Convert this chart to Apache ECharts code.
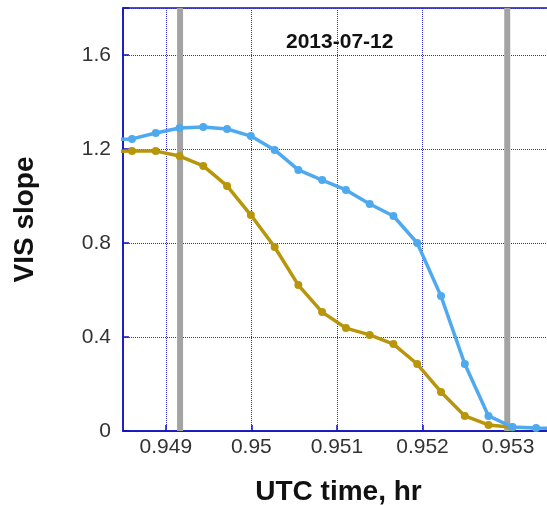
<!DOCTYPE html>
<html>
<head>
<meta charset="utf-8">
<script src="https://cdn.jsdelivr.net/npm/echarts@6/dist/echarts.min.js"></script>
<style>
  html, body { margin: 0; padding: 0; background: #fff; }
  #chart { width: 547px; height: 505px; }
</style>
</head>
<body>
<div id="chart"></div>
<script>
  // UTC time (hr), one sample per second
  var times = [0.948327, 0.948605, 0.948883, 0.949161, 0.949438, 0.949716, 0.949994,
    0.950272, 0.950549, 0.950827, 0.951105, 0.951383, 0.951660, 0.951938, 0.952216,
    0.952494, 0.952771, 0.953049, 0.953327, 0.953605]
  var blueSlope = [1.24, 1.243, 1.268, 1.289, 1.294, 1.285, 1.255, 1.196, 1.111, 1.068,
    1.026, 0.966, 0.915, 0.80, 0.574, 0.285, 0.064, 0.017, 0.013, 0.01]
  var oliveSlope = [1.19, 1.191, 1.191, 1.170, 1.128, 1.043, 0.919, 0.783, 0.621, 0.506,
    0.438, 0.409, 0.370, 0.285, 0.166, 0.064, 0.026, 0.016, null, null]
  var xTicks = [0.949, 0.95, 0.951, 0.952, 0.953]
  var yTicks = [0, 0.4, 0.8, 1.2, 1.6]
  var bands = [0.949167, 0.95299]
  var dateLabel = '2013-07-12'

  var FONT = "'Liberation Sans', Arial, sans-serif"
  var frameColor = '#1010c0'
  var Y_MAX = 1.8

  function pairs(vals) {
    return times.map(function (t, i) { return [t, vals[i]] })
  }

  // each gray band is a thick vertical line from bottom to top of the plot
  var bandSeries = bands.map(function (b) {
    return {
      type: 'line',
      z: 1,
      silent: true,
      symbol: 'none',
      data: [[b, 0], [b, Y_MAX]],
      lineStyle: { color: '#a3a3a3', width: 6 }
    }
  })

  var chart = echarts.init(document.getElementById('chart'), null, { renderer: 'canvas' })
  var option = {
    animation: false,
    backgroundColor: '#fff',
    title: {
      text: dateLabel,
      left: 281,
      top: 27,
      textStyle: { fontFamily: FONT, fontSize: 21, fontWeight: 'bold', color: '#111' }
    },
    grid: {
      left: 123,
      top: 8,
      right: -21,
      bottom: 74,
      outerBoundsMode: 'none',
      containLabel: false,
      show: true,
      borderColor: frameColor,
      borderWidth: 1.5,
      backgroundColor: 'transparent'
    },
    xAxis: {
      type: 'value',
      min: 0.9485,
      max: 0.9537,
      name: 'UTC time, hr',
      nameLocation: 'middle',
      nameGap: 47,
      nameTextStyle: { fontFamily: FONT, fontSize: 28, fontWeight: 'bold', color: '#111', padding: [0, 14, 0, 0] },
      axisLine: { show: true, lineStyle: { color: frameColor, width: 1.5 } },
      axisTick: { show: true, inside: true, length: 6, customValues: xTicks, lineStyle: { color: frameColor, width: 1.5 } },
      axisLabel: {
        customValues: xTicks,
        margin: 6,
        fontFamily: FONT, fontSize: 21, color: '#333',
        formatter: function (v) { return String(+v.toFixed(4)) }
      },
      splitLine: { show: true, lineStyle: { color: '#2a2ad0', type: 'dotted', width: 1 } }
    },
    yAxis: {
      type: 'value',
      min: 0,
      max: Y_MAX,
      interval: 0.4,
      name: 'VIS slope',
      nameLocation: 'middle',
      nameRotate: 90,
      nameGap: 84,
      nameTextStyle: { fontFamily: FONT, fontSize: 28, fontWeight: 'bold', color: '#111' },
      axisLine: { show: true, lineStyle: { color: frameColor, width: 1.5 } },
      axisTick: { show: true, inside: true, length: 6, lineStyle: { color: frameColor, width: 1.5 } },
      axisLabel: {
        margin: 12,
        fontFamily: FONT, fontSize: 21, color: '#333',
        formatter: function (v) { return yTicks.indexOf(+v.toFixed(1)) >= 0 ? String(+v.toFixed(1)) : '' }
      },
      splitLine: { show: true, lineStyle: { color: '#2a2ad0', type: 'dotted', width: 1 } }
    },
    series: bandSeries.concat([
      {
        name: 'olive',
        type: 'line',
        z: 3,
        data: pairs(oliveSlope),
        symbol: 'circle',
        symbolSize: 8,
        connectNulls: false,
        itemStyle: { color: '#b8960c' },
        lineStyle: { color: '#b8960c', width: 3.5 }
      },
      {
        name: 'blue',
        type: 'line',
        z: 4,
        data: pairs(blueSlope),
        symbol: 'circle',
        symbolSize: 8,
        itemStyle: { color: '#4fa9ee' },
        lineStyle: { color: '#4fa9ee', width: 3.5 }
      }
    ])
  }
  chart.setOption(option)
</script>
</body>
</html>
